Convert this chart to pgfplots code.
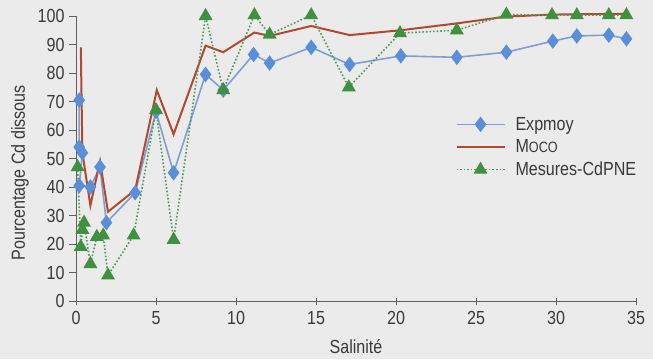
\documentclass[border=0pt]{standalone}
\usepackage{pgfplots}
\pgfplotsset{compat=1.18}
\usepackage{fontspec}
\setmainfont{Liberation Sans}[FakeStretch=0.85]
\definecolor{bg}{HTML}{EBEBEB}
\definecolor{cblue}{HTML}{5A8ED8}
\definecolor{cblueline}{HTML}{7E9ED6}
\definecolor{cred}{HTML}{B0492F}
\definecolor{cgreen}{HTML}{3F9140}
\definecolor{cgreenline}{HTML}{4E9A58}
\definecolor{axgray}{HTML}{606060}
\definecolor{txt}{HTML}{3A3A3A}
\begin{document}
\begin{tikzpicture}[x=1bp,y=1bp]
\fill[bg] (0,0) rectangle (653,359);
\path[use as bounding box] (0,0) rectangle (653,359);
\begin{axis}[
  scale only axis,
  width=560bp, height=285bp,
  at={(76bp,58bp)}, anchor=south west,
  xmin=0, xmax=35, ymin=0, ymax=100,
  clip=false,
  axis lines*=left,
  axis line style={axgray, line width=1pt, -},
  xtick={0,5,...,35},
  ytick={0,10,...,100},
  tick align=outside,
  major tick length=7bp,
  tick style={axgray, line width=0.9pt},
  x tick style={yshift=3.5bp},
  /pgf/number format/assume math mode=true,
  tick label style={font=\fontsize{19}{22}\selectfont, text=txt},
  yticklabel style={xshift=-1bp},
  label style={font=\fontsize{19}{22}\selectfont, text=txt},
  xlabel={Salinité},
  ylabel={Pourcentage Cd dissous},
  xlabel style={at={(axis description cs:0.5,-0.16)}, anchor=center},
  ylabel style={at={(axis description cs:-0.1,0.45)}, anchor=center},
  legend style={draw=none, fill=none, at={(axis description cs:0.672,0.66)}, anchor=north west,
    font=\fontsize{19}{22}\selectfont, text=txt, row sep=4bp,
    /tikz/every odd column/.append style={column sep=8bp}},
  legend cell align=left,
  legend image code/.code={\draw[#1, mark repeat=2, mark phase=2] plot coordinates {(0bp,0bp) (24bp,0bp) (48bp,0bp)};},
]
\addplot[cblueline, line width=1.6pt, mark=diamond*, mark size=6.5bp, mark options={fill=cblue, draw=cblue, solid}] coordinates {
(0.2,70.5) (0.2,54) (0.4,52) (0.2,40.5) (0.9,40) (1.5,47) (1.9,27.5) (3.7,38) (5.0,66.5) (6.1,45) (8.1,79.5) (9.2,74) (11.1,86.5) (12.1,83.5) (14.7,89) (17.1,83) (20.3,86) (23.8,85.5) (26.9,87.3) (29.8,91.2) (31.3,93) (33.3,93.3) (34.4,92)
};
\addlegendentry{Expmoy}
\addplot[cred, line width=2pt, mark=none] coordinates {
(0.3,89) (0.4,52) (0.9,33.5) (1.5,49) (2.0,31.3) (3.7,39) (5.05,74) (6.1,58.5) (8.1,89.6) (9.2,87.3) (11.15,94.2) (12.1,93) (14.7,96.5) (17.1,93.3) (20.3,95) (23.8,97.4) (26.9,99.8) (29.8,100.5) (34.4,100.8)
};
\addlegendentry{M{\fontsize{15}{17}\selectfont OCO}}
\addplot[cgreenline, line width=1.6pt, dotted, mark=triangle*, mark size=6.5bp, mark options={fill=cgreen, draw=cgreen, solid}] coordinates {
(0.1,47) (0.3,19) (0.4,25) (0.5,27.5) (0.9,13) (1.3,22.5) (1.7,23) (2.0,9) (3.6,23) (5.0,67) (6.1,21.5) (8.1,100) (9.2,74) (11.15,100.3) (12.1,93.5) (14.7,100.3) (17.05,75) (20.25,94) (23.8,95) (26.9,100.5) (29.75,100.3) (31.3,100.3) (33.3,100.3) (34.4,100.3)
};
\addlegendentry{Mesures-CdPNE}
\end{axis}
\end{tikzpicture}
\end{document}
